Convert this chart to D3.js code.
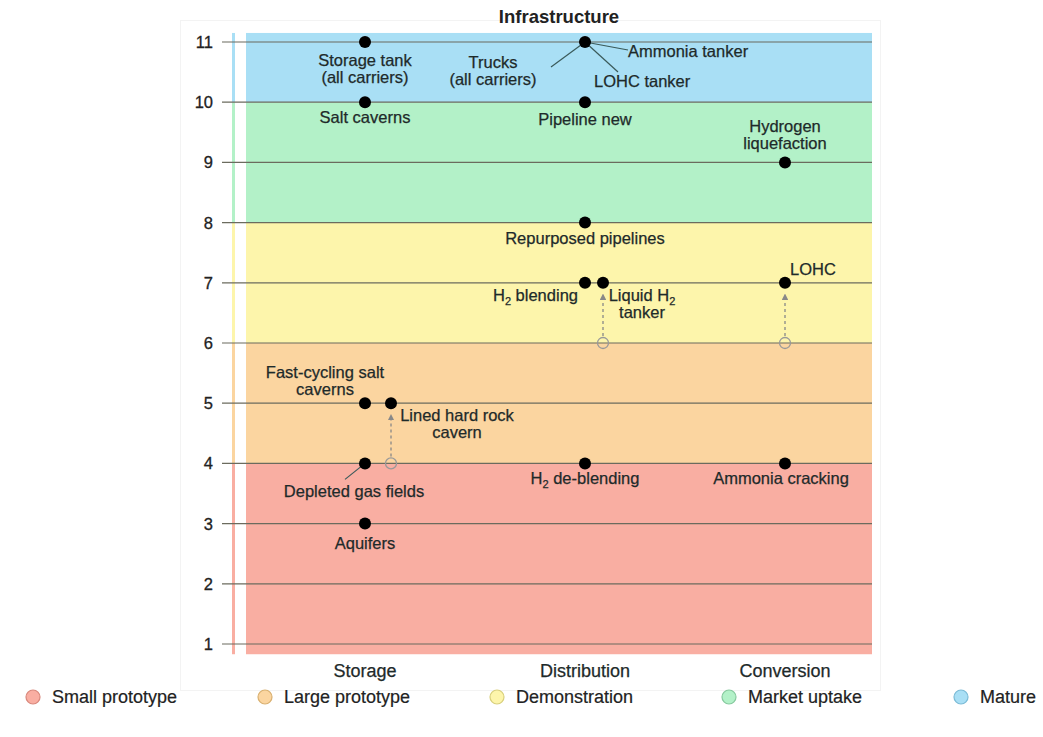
<!DOCTYPE html>
<html>
<head>
<meta charset="utf-8">
<script src="https://cdn.jsdelivr.net/npm/d3@7"></script>
<style>
  body { margin: 0; background: #fff; }
  text { font-family: "Liberation Sans", Arial, sans-serif; }
</style>
</head>
<body>
<div id="chart"></div>
<script>
// Hydrogen infrastructure readiness (TRL) chart

// ---- data ----
const categories = ["Storage", "Distribution", "Conversion"];
const trlTicks = [1, 2, 3, 4, 5, 6, 7, 8, 9, 10, 11];

// maturity stages, lower / upper TRL of each band
const stageNames = ["Small prototype", "Large prototype", "Demonstration", "Market uptake", "Mature"];
const stageLow = [0.83, 4, 6, 8, 10];
const stageHigh = [4, 6, 8, 10, 11.15];
const stageColors = ["#f9aea2", "#fbd5a0", "#fdf5ab", "#b3f1c8", "#a9dff5"];
const stageStroke = ["#d9887c", "#d9b070", "#d8cf7c", "#86c99e", "#7bbbd6"];

// technologies
const techNames = ["Storage tank (all carriers)", "Salt caverns", "Fast-cycling salt caverns", "Lined hard rock cavern",
  "Depleted gas fields", "Aquifers", "Trucks (all carriers)", "Pipeline new", "Repurposed pipelines",
  "H2 blending", "Liquid H2 tanker", "H2 de-blending", "Hydrogen liquefaction", "LOHC", "Ammonia cracking"];
const techCategory = ["Storage", "Storage", "Storage", "Storage", "Storage", "Storage", "Distribution", "Distribution",
  "Distribution", "Distribution", "Distribution", "Distribution", "Conversion", "Conversion", "Conversion"];
const techTRL = [11, 10, 5, 5, 4, 3, 11, 10, 8, 7, 7, 4, 9, 7, 4];
const techPrevTRL = [null, null, null, 4, null, null, null, null, null, null, 6, null, null, 6, null];
const techShifted = [0, 0, 0, 1, 0, 0, 0, 0, 0, 0, 1, 0, 0, 0, 0];

const techs = techNames.map((n, i) => ({
  name: n, cat: techCategory[i], trl: techTRL[i], prev: techPrevTRL[i], shifted: techShifted[i]
}));

// ---- layout ----
const width = 1043, height = 737;
const svg = d3.select("#chart").append("svg").attr("width", width).attr("height", height);

const y = d3.scaleLinear().domain([1, 11]).range([644, 42]);
const x = d3.scaleOrdinal().domain(categories).range([365, 585, 785]);
const shiftPx = {Storage: 26, Distribution: 18, Conversion: 0};
const px = d => x(d.cat) + (d.shifted ? shiftPx[d.cat] : 0);

const bandLeft = 246, bandRight = 872, gridLeft = 222;
const ink = "#1e2a2a";

// faint frame
svg.append("rect").attr("x", 180.5).attr("y", 20.5).attr("width", 700).attr("height", 670)
  .attr("fill", "none").attr("stroke", "#f3f3f3");

// bands
const stages = stageNames.map((n, i) => ({name: n, lo: stageLow[i], hi: stageHigh[i], fill: stageColors[i], stroke: stageStroke[i]}));
svg.append("g").selectAll("rect").data(stages).join("rect")
  .attr("x", bandLeft).attr("width", bandRight - bandLeft)
  .attr("y", d => y(d.hi)).attr("height", d => y(d.lo) - y(d.hi))
  .attr("fill", d => d.fill);
// thin side strip
svg.append("g").selectAll("rect").data(stages).join("rect")
  .attr("x", 232).attr("width", 3)
  .attr("y", d => y(d.hi)).attr("height", d => y(d.lo) - y(d.hi))
  .attr("fill", d => d.fill);

// grid lines and tick labels
svg.append("g").selectAll("line").data(trlTicks).join("line")
  .attr("x1", gridLeft).attr("x2", bandRight)
  .attr("y1", d => y(d)).attr("y2", d => y(d))
  .attr("stroke", "#6b6b5e").attr("stroke-width", 1.2);
svg.append("g").selectAll("text").data(trlTicks).join("text")
  .attr("x", 213).attr("y", d => y(d) + 6)
  .attr("text-anchor", "end").attr("font-size", 16.5).attr("fill", "#222")
  .attr("stroke", "#222").attr("stroke-width", 0.3)
  .text(d => d);

// column labels
svg.append("g").selectAll("text").data(categories).join("text")
  .attr("x", d => x(d)).attr("y", 677)
  .attr("text-anchor", "middle").attr("font-size", 18).attr("fill", ink)
  .attr("stroke", ink).attr("stroke-width", 0.25)
  .text(d => d);

// title
svg.append("text").attr("x", 559).attr("y", 23).attr("text-anchor", "middle")
  .attr("font-size", 18.5).attr("font-weight", "bold").attr("fill", "#222").text("Infrastructure");

// arrows from previous TRL
svg.append("defs").append("marker").attr("id", "arr")
  .attr("viewBox", "0 0 10 10").attr("refX", 5).attr("refY", 5)
  .attr("markerWidth", 5).attr("markerHeight", 5).attr("orient", "auto")
  .append("path").attr("d", "M0,0L10,5L0,10z").attr("fill", "#888");

const moved = techs.filter(d => d.prev !== null);
svg.append("g").selectAll("line").data(moved).join("line")
  .attr("x1", px).attr("x2", px)
  .attr("y1", d => y(d.prev) - 7).attr("y2", d => y(d.trl) + 14)
  .attr("stroke", "#888").attr("stroke-width", 1.3).attr("stroke-dasharray", "3,3")
  .attr("marker-end", "url(#arr)");
svg.append("g").selectAll("circle").data(moved).join("circle")
  .attr("cx", px).attr("cy", d => y(d.prev)).attr("r", 5.5)
  .attr("fill", "none").attr("stroke", "#999").attr("stroke-width", 1.3);

// label placement (offsets from the dot)
const labelLayout = {
  "Storage tank (all carriers)": {lines: ["Storage tank", "(all carriers)"], dx: 0, dy: 18, anchor: "middle"},
  "Salt caverns": {lines: ["Salt caverns"], dx: 0, dy: 15, anchor: "middle"},
  "Fast-cycling salt caverns": {lines: ["Fast-cycling salt", "caverns"], dx: -40, dy: -31, anchor: "middle"},
  "Lined hard rock cavern": {lines: ["Lined hard rock", "cavern"], dx: 66, dy: 12, anchor: "middle"},
  "Depleted gas fields": {lines: ["Depleted gas fields"], dx: -11, dy: 28, anchor: "middle", leader: [-20, 16]},
  "Aquifers": {lines: ["Aquifers"], dx: 0, dy: 19, anchor: "middle"},
  "Trucks (all carriers)": {lines: ["Trucks", "(all carriers)"], dx: -92, dy: 20, anchor: "middle", leader: [-34, 25]},
  "Pipeline new": {lines: ["Pipeline new"], dx: 0, dy: 17, anchor: "middle"},
  "Repurposed pipelines": {lines: ["Repurposed pipelines"], dx: 0, dy: 15, anchor: "middle"},
  "H2 blending": {lines: ["H_2 blending"], dx: -7, dy: 12, anchor: "end"},
  "Liquid H2 tanker": {lines: ["Liquid H_2", "tanker"], dx: 39, dy: 12, anchor: "middle"},
  "H2 de-blending": {lines: ["H_2 de-blending"], dx: 0, dy: 15, anchor: "middle"},
  "Hydrogen liquefaction": {lines: ["Hydrogen", "liquefaction"], dx: 0, dy: -36, anchor: "middle"},
  "LOHC": {lines: ["LOHC"], dx: 5, dy: -14, anchor: "start"},
  "Ammonia cracking": {lines: ["Ammonia cracking"], dx: -4, dy: 15, anchor: "middle"}
};
// extra labels sharing the trucks dot
const extraLabels = [
  {of: "Trucks (all carriers)", text: "Ammonia tanker", dx: 43, dy: 9, leader: [43, 8]},
  {of: "Trucks (all carriers)", text: "LOHC tanker", dx: 9, dy: 39, leader: [33, 30]}
];

const lineH = 17;
const labels = svg.append("g").attr("fill", ink).attr("font-size", 16.5)
  .attr("stroke", ink).attr("stroke-width", 0.25);

// leader lines
const leaders = svg.append("g").attr("stroke", "#3a5a5a").attr("stroke-width", 1.2);
techs.forEach(d => {
  const L = labelLayout[d.name];
  if (L.leader) {
    leaders.append("line").attr("x1", px(d)).attr("y1", y(d.trl))
      .attr("x2", px(d) + L.leader[0]).attr("y2", y(d.trl) + L.leader[1]);
  }
});
extraLabels.forEach(e => {
  const d = techs.find(t => t.name === e.of);
  leaders.append("line").attr("x1", px(d)).attr("y1", y(d.trl))
    .attr("x2", px(d) + e.leader[0]).attr("y2", y(d.trl) + e.leader[1]);
});

function writeLine(t, s) {
  // "_2" -> subscript 2
  const parts = s.split("_");
  t.append("tspan").text(parts[0]);
  for (let i = 1; i < parts.length; i++) {
    t.append("tspan").attr("font-size", 11).attr("dy", 4).text(parts[i][0]);
    t.append("tspan").attr("dy", -4).text(parts[i].slice(1));
  }
}

techs.forEach(d => {
  const L = labelLayout[d.name];
  L.lines.forEach((s, i) => {
    const t = labels.append("text")
      .attr("x", px(d) + L.dx).attr("y", y(d.trl) + L.dy + i * lineH + 6)
      .attr("text-anchor", L.anchor);
    writeLine(t, s);
  });
});
extraLabels.forEach(e => {
  const d = techs.find(t => t.name === e.of);
  labels.append("text").attr("x", px(d) + e.dx).attr("y", y(d.trl) + e.dy + 6)
    .attr("text-anchor", "start").text(e.text);
});

// dots
svg.append("g").selectAll("circle").data(techs).join("circle")
  .attr("cx", px).attr("cy", d => y(d.trl)).attr("r", 6)
  .attr("fill", "#000");

// legend
const legendX = d3.scalePoint().domain(stageNames).range([33, 961]);
const leg = svg.append("g").selectAll("g").data(stages).join("g")
  .attr("transform", d => `translate(${legendX(d.name)},697)`);
leg.append("circle").attr("r", 7).attr("fill", d => d.fill).attr("stroke", d => d.stroke).attr("stroke-width", 1.2);
leg.append("text").attr("x", 19).attr("y", 6).attr("font-size", 18).attr("fill", "#222")
  .attr("stroke", "#222").attr("stroke-width", 0.2).text(d => d.name);
</script>
</body>
</html>
